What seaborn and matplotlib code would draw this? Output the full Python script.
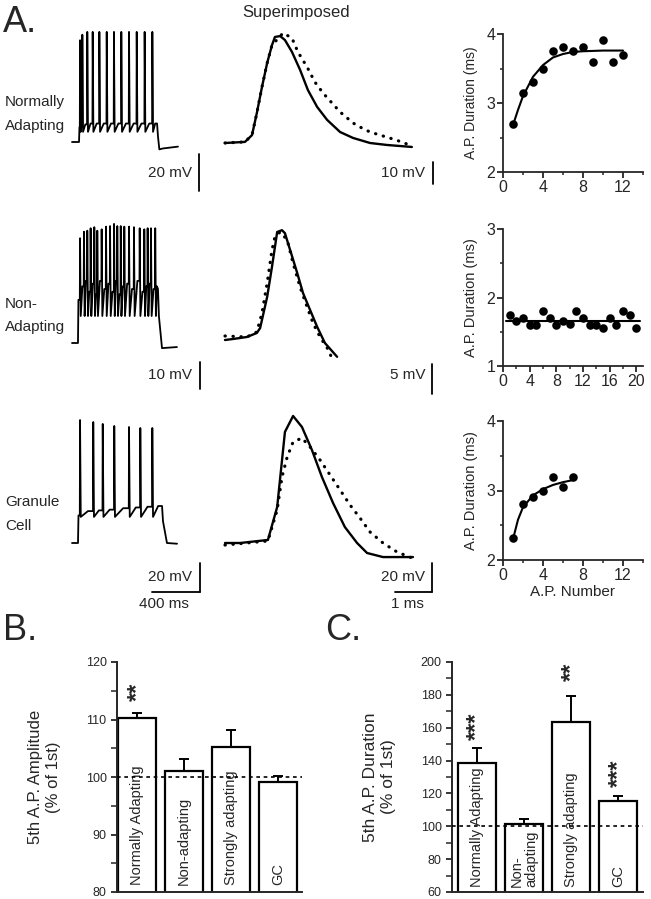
import matplotlib
matplotlib.use("Agg")
import matplotlib.pyplot as plt
import numpy as np
import seaborn as sns
from matplotlib.ticker import MultipleLocator

# ---- spike trains (ms, mV) ----
# normally adapting
na_spike_t = [70, 90, 133, 180, 238, 302, 365, 429, 496, 563, 632, 699]
na_spike_peak = [-10, -7, -5.5, -5.5, -5.5, -5.5, -5.5, -5.5, -5.5, -5.5, -5.5, -5.5]
na_hump = [-56, -55.5, -55, -55, -55, -55, -55, -55, -55, -55, -55, -55]
na_tail_t = [740, 748, 760, 790, 922]
na_tail_v = [-55, -62, -69, -68.5, -67.5]

# non-adapting
nad_spike_t = [70, 104, 133, 162, 194, 220, 258, 296, 331, 366,
               394, 424, 455, 496, 539, 589, 629, 658, 687, 724]
nad_spike_peak = [-26.2, -23.8, -23.4, -22.5, -22.1, -23.4, -22.9, -21.9, -21.7, -20.9,
                  -21.7, -21.7, -21.9, -21.9, -22.1, -22.5, -22.9, -22.5, -22.5, -22.5]
nad_hump = [-44, -42, -46, -43, -47, -42, -45, -43, -46, -42,
            -47, -44, -43, -45, -42, -46, -44, -43, -45, -44]
nad_tail_t = [748, 756, 783, 913]
nad_tail_v = [-45, -55, -66.9, -66.5]

# granule cell
gc_spike_t = [67, 177, 256, 352, 475, 569, 669]
gc_spike_peak = [14.8, 13.4, 12.1, 10.7, 10.0, 9.3, 9.3]
gc_hump = [-48, -47.5, -47, -46, -45.5, -45, -44.5]
gc_tail_t = [750, 758, 791, 875]
gc_tail_v = [-44.5, -55, -70, -70.5]

# ---- superimposed 1st (solid) and last (dotted) action potentials (ms, mV) ----
ap1_t = [0, 0.54, 0.73, 0.86, 1.0, 1.14, 1.27, 1.35, 1.49, 1.62, 1.81, 2.03, 2.24, 2.49,
         2.76, 3.11, 3.46, 3.92, 4.38, 5.05]
ap1_v = [0, 0.5, 3.6, 13.6, 25.5, 36.4, 44.5, 48.2, 48.6, 46.8, 41.4, 33.2, 24.1, 16.4,
         10.5, 5.0, 2.3, 0, -0.9, -1.8]
ap1d_t = [0, 0.54, 0.73, 0.86, 1.0, 1.14, 1.27, 1.57, 1.81, 1.97, 2.22, 2.43, 2.65, 2.89,
          3.11, 3.30, 3.46, 3.70, 3.92, 4.19, 4.54, 4.86, 5.05]
ap1d_v = [0, 0.5, 3.6, 13.6, 25.5, 36.4, 44.5, 50.0, 47.7, 41.4, 34.5, 27.7, 22.7, 18.2,
          14.1, 11.4, 9.1, 6.8, 5.0, 3.6, 1.8, 0, -1.8]

ap2_t = [0, 0.22, 0.59, 0.86, 0.95, 1.14, 1.27, 1.41, 1.54, 1.62, 1.76, 1.95, 2.11, 2.30,
         2.49, 2.70, 3.03]
ap2_v = [0, 0.17, 0.5, 1.17, 2.0, 7.2, 12.2, 18.0, 18.3, 17.8, 15.0, 11.2, 7.8, 5.0,
         2.2, -0.5, -2.8]
ap2d_t = [0, 0.59, 0.86, 1.0, 1.14, 1.27, 1.35, 1.49, 1.68, 1.84, 2.03, 2.22, 2.38, 2.57,
          2.76, 2.89]
ap2d_v = [0.67, 0.5, 1.33, 4.5, 9.5, 15.0, 17.2, 18.0, 16.7, 12.8, 8.8, 5.5, 2.8, 0.5,
          -1.3, -3.0]

ap3_t = [0, 0.41, 1.16, 1.41, 1.62, 1.84, 2.08, 2.35, 2.62, 2.92, 3.24, 3.57, 3.84, 4.27, 5.08]
ap3_v = [0, 0, 2.1, 24.8, 76.6, 87.6, 80.0, 64.1, 45.5, 27.6, 11.0, 0, -6.9, -9.7, -9.7]
ap3d_t = [0, 1.16, 1.41, 1.54, 1.68, 1.84, 2.08, 2.30, 2.57, 2.84, 3.11, 3.38, 3.65, 3.92,
          4.27, 4.65, 5.19]
ap3d_v = [-1.4, 1.4, 22.8, 45.5, 59.3, 69.7, 72.4, 66.2, 57.2, 46.9, 36.6, 26.2, 17.2, 7.6,
          0, -6.2, -11.7]

# ---- AP duration vs AP number ----
dur1_n = [1, 2, 3, 4, 5, 6, 7, 8, 9, 10, 11, 12]
dur1_ms = [2.70, 3.14, 3.30, 3.50, 3.75, 3.81, 3.75, 3.81, 3.60, 3.91, 3.60, 3.70]
fit1_n = [1, 1.5, 2, 3, 4, 5, 6, 7, 8, 10, 12]
fit1_ms = [2.68, 2.90, 3.10, 3.38, 3.55, 3.66, 3.71, 3.74, 3.75, 3.76, 3.76]

dur2_n = list(range(1, 21))
dur2_ms = [1.74, 1.65, 1.70, 1.60, 1.60, 1.80, 1.70, 1.60, 1.66, 1.61,
           1.80, 1.70, 1.60, 1.60, 1.55, 1.70, 1.60, 1.80, 1.74, 1.55]
fit2_n = [0.5, 20.5]
fit2_ms = [1.66, 1.66]

dur3_n = [1, 2, 3, 4, 5, 6, 7]
dur3_ms = [2.31, 2.81, 2.90, 3.00, 3.20, 3.05, 3.20]
fit3_n = [1, 1.5, 2, 3, 4, 5, 6, 7]
fit3_ms = [2.30, 2.58, 2.76, 2.93, 3.02, 3.08, 3.12, 3.15]

# ---- bar charts ----
b_labels = ["Normally Adapting", "Non-adapting", "Strongly adapting", "GC"]
b_mean = [110.2, 101.1, 105.3, 99.2]
b_sem = [0.9, 2.0, 2.9, 1.0]
b_stars = ["**", "", "", ""]
b_star_y = [114.8, 0, 0, 0]

c_labels = ["Normally Adapting", "Non-\nadapting", "Strongly adapting", "GC"]
c_mean = [138.7, 101.4, 163.5, 115.6]
c_sem = [9.1, 3.0, 16.0, 2.8]
c_stars = ["***", "", "**", "***"]
c_star_y = [160.6, 0, 194, 132.5]

W, H = 651, 899

sns.set_style("ticks")
plt.rcParams["font.family"] = ["Liberation Sans", "DejaVu Sans"]

fig = plt.figure(figsize=(W / 100, H / 100), dpi=100)


def px_axes(x0, y0, x1, y1):
    return fig.add_axes([x0 / W, 1 - y1 / H, (x1 - x0) / W, (y1 - y0) / H])


def ftext(x, y, s, **kw):
    fig.text(x / W, 1 - y / H, s, **kw)


def trace_axes(box, x_ref, t_ref, ms_per_px, y_ref, v_ref, px_per_mv):
    ax = px_axes(*box)
    x0, y0, x1, y1 = box
    ax.set_xlim(t_ref + (x0 - x_ref) * ms_per_px, t_ref + (x1 - x_ref) * ms_per_px)
    ax.set_ylim(v_ref - (y1 - y_ref) / px_per_mv, v_ref + (y_ref - y0) / px_per_mv)
    ax.axis("off")
    return ax


def px_to_data(ax, x, y):
    disp = fig.transFigure.transform((x / W, 1 - y / H))
    return ax.transData.inverted().transform(disp)


def scale_bar(ax, x, y, mv, ms=None):
    xd, yd = px_to_data(ax, x, y)
    ax.plot([xd, xd], [yd, yd + mv], color="k", lw=1.3, clip_on=False)
    if ms:
        ax.plot([xd - ms, xd], [yd, yd], color="k", lw=1.3, clip_on=False)


def spike_train(rest, on, first, times, peaks, trough, humps, tail_t, tail_v):
    t = [0, on, on + 4]
    v = [rest, rest, first]
    for i, (ts, pk) in enumerate(zip(times, peaks)):
        nxt = times[i + 1] if i + 1 < len(times) else tail_t[0]
        t += [ts - 2, ts, ts + 6, ts + 0.6 * (nxt - ts)]
        v += [v[-1], pk, trough, humps[i]]
    return t + tail_t, v + tail_v


def draw_line(ax, x, y, **kw):
    sns.lineplot(x=x, y=y, ax=ax, color="k", estimator=None, sort=False, **kw)


dot_kw = dict(lw=2.3, ls=(0, (0.1, 2.4)), dash_capstyle="round")

# ---------------- panel A: traces ----------------
rows = [
    dict(train=spike_train(-65, 61, -57, na_spike_t, na_spike_peak, -59.5, na_hump,
                           na_tail_t, na_tail_v),
         sbox=(65, 22, 205, 198), sy=(142, -65, 1.85), sms=8.7,
         ap=(ap1_t, ap1_v, ap1d_t, ap1d_v), abox=(220, 22, 440, 198), ay=(143, 2.2),
         lbar=(199, 191, 20), rbar=(433, 184, 10), ltxt="20 mV", rtxt="10 mV", ty=173,
         label=("Normally", "Adapting"), label_y=(102, 126)),
    dict(train=spike_train(-65, 52, -49, nad_spike_t, nad_spike_peak, -55, nad_hump,
                           nad_tail_t, nad_tail_v),
         sbox=(65, 215, 205, 398), sy=(343, -65, 2.7), sms=8.7,
         ap=(ap2_t, ap2_v, ap2d_t, ap2d_v), abox=(220, 215, 440, 398), ay=(340, 6.0),
         lbar=(200, 389, 10), rbar=(432, 394, 5), ltxt="10 mV", rtxt="5 mV", ty=375,
         label=("Non-", "Adapting"), label_y=(304, 327)),
    dict(train=spike_train(-70, 50, -51, gc_spike_t, gc_spike_peak, -52, gc_hump,
                           gc_tail_t, gc_tail_v),
         sbox=(65, 410, 205, 600), sy=(543, -70, 1.45), sms=8.33,
         ap=(ap3_t, ap3_v, ap3d_t, ap3d_v), abox=(220, 410, 440, 600), ay=(543, 1.45),
         lbar=(200, 592, 20), rbar=(432, 592, 20), ltxt="20 mV", rtxt="20 mV", ty=577,
         label=("Granule", "Cell"), label_y=(502, 526)),
]

for i, r in enumerate(rows):
    ax = trace_axes(r["sbox"], 72, 0, r["sms"], *r["sy"])
    draw_line(ax, r["train"][0], r["train"][1], lw=1.3)
    ms = 400 if i == 2 else None
    scale_bar(ax, r["lbar"][0], r["lbar"][1], r["lbar"][2], ms)

    ax2 = trace_axes(r["abox"], 225, 0, 1 / 37, r["ay"][0], 0, r["ay"][1])
    st, sv, dt, dv = r["ap"]
    draw_line(ax2, st, sv, lw=1.7)
    draw_line(ax2, dt, dv, **dot_kw)
    scale_bar(ax2, r["rbar"][0], r["rbar"][1], r["rbar"][2], 1 if i == 2 else None)

    ftext(192, r["ty"], r["ltxt"], ha="right", va="center", fontsize=11)
    ftext(425, r["ty"], r["rtxt"], ha="right", va="center", fontsize=11)
    for line, yy in zip(r["label"], r["label_y"]):
        ftext(5, yy, line, ha="left", va="center", fontsize=11)

ftext(164, 604, "400 ms", ha="center", va="center", fontsize=11)
ftext(407, 604, "1 ms", ha="center", va="center", fontsize=11)
ftext(296, 12, "Superimposed", ha="center", va="center", fontsize=12)
ftext(3, 5, "A.", ha="left", va="top", fontsize=26)

# ---------------- panel A: AP duration plots ----------------
scat = [
    dict(box=(503, 34, 643, 172), n=dur1_n, d=dur1_ms, fn=fit1_n, fd=fit1_ms,
         xlim=(0, 14), ylim=(2, 4), lab=10, xlabel=""),
    dict(box=(503, 229, 643, 366), n=dur2_n, d=dur2_ms, fn=fit2_n, fd=fit2_ms,
         xlim=(0, 21), ylim=(1, 3), lab=10.5, xlabel=""),
    dict(box=(503, 421, 643, 560), n=dur3_n, d=dur3_ms, fn=fit3_n, fd=fit3_ms,
         xlim=(0, 14), ylim=(2, 4), lab=10.5, xlabel="A.P. Number"),
]
for s in scat:
    ax = px_axes(*s["box"])
    draw_line(ax, s["fn"], s["fd"], lw=1.5)
    sns.scatterplot(x=s["n"], y=s["d"], ax=ax, color="k", s=38, linewidth=0,
                    zorder=3, clip_on=False)
    ax.set_xlim(*s["xlim"])
    ax.set_ylim(*s["ylim"])
    ax.xaxis.set_major_locator(MultipleLocator(4))
    ax.xaxis.set_minor_locator(MultipleLocator(2))
    ax.yaxis.set_major_locator(MultipleLocator(1))
    ax.yaxis.set_minor_locator(MultipleLocator(0.5))
    ax.tick_params(which="major", direction="out", length=4, width=1.3,
                   labelsize=11.5, pad=1.5)
    ax.tick_params(which="minor", direction="out", length=2.5, width=1.1)
    for sp in ("left", "bottom"):
        ax.spines[sp].set_linewidth(1.3)
    sns.despine(ax=ax)
    ax.set_ylabel("A.P. Duration (ms)", fontsize=s["lab"], labelpad=6)
    ax.set_xlabel(s["xlabel"], fontsize=11, labelpad=2)

# ---------------- panels B and C: bar charts ----------------
bars = [
    dict(box=(117, 662, 302, 892), labels=b_labels, mean=b_mean, sem=b_sem,
         stars=b_stars, star_y=b_star_y, ylim=(80, 120), major=10, minor=5,
         xlim=(-0.43, 3.51), ylabel="5th A.P. Amplitude\n(% of 1st)", ylab_fs=12,
         letter=(3, 613, "B."), text_y=0.03, pad=18),
    dict(box=(452, 662, 643, 892), labels=c_labels, mean=c_mean, sem=c_sem,
         stars=c_stars, star_y=c_star_y, ylim=(60, 200), major=20, minor=10,
         xlim=(-0.53, 3.53), ylabel="5th A.P. Duration\n(% of 1st)", ylab_fs=12.5,
         letter=(325, 613, "C."), text_y=0.02, pad=18),
]
for b in bars:
    ax = px_axes(*b["box"])
    sns.barplot(x=b["labels"], y=b["mean"], order=b["labels"], ax=ax, color="white",
                edgecolor="black", linewidth=1.6, width=0.81, errorbar=None,
                saturation=1)
    pos = np.arange(len(b["labels"]))
    ax.errorbar(pos, b["mean"], yerr=[np.zeros(len(pos)), b["sem"]], fmt="none",
                ecolor="black", elinewidth=1.4, capsize=3.6, capthick=1.4, zorder=1)
    ax.set_xlim(*b["xlim"])
    ax.set_ylim(*b["ylim"])
    ax.axhline(100, color="black", lw=1.2, ls=(0, (2.2, 2.2)), zorder=5)
    ax.set_xticks([])
    ax.set_xlabel("")
    ax.yaxis.set_major_locator(MultipleLocator(b["major"]))
    ax.yaxis.set_minor_locator(MultipleLocator(b["minor"]))
    ax.tick_params(which="major", direction="out", length=4, width=1.3, labelsize=9)
    ax.tick_params(which="minor", direction="out", length=4, width=1.1)
    for sp in ("left", "bottom"):
        ax.spines[sp].set_linewidth(1.4)
    sns.despine(ax=ax)
    ax.set_ylabel(b["ylabel"], fontsize=b["ylab_fs"], labelpad=b["pad"], linespacing=1.25)
    for p, lab in zip(pos, b["labels"]):
        ax.text(p, b["text_y"], lab, transform=ax.get_xaxis_transform(), rotation=90,
                ha="center", va="bottom", multialignment="left", fontsize=10.5,
                linespacing=1.0)
    for p, st, sy in zip(pos, b["stars"], b["star_y"]):
        if st:
            ax.text(p, sy, st, rotation=90, ha="center", va="center", fontsize=17,
                    fontweight="bold")
    lx, ly, lt = b["letter"]
    ftext(lx, ly, lt, ha="left", va="top", fontsize=26)

fig.savefig("out.png", dpi=100)
